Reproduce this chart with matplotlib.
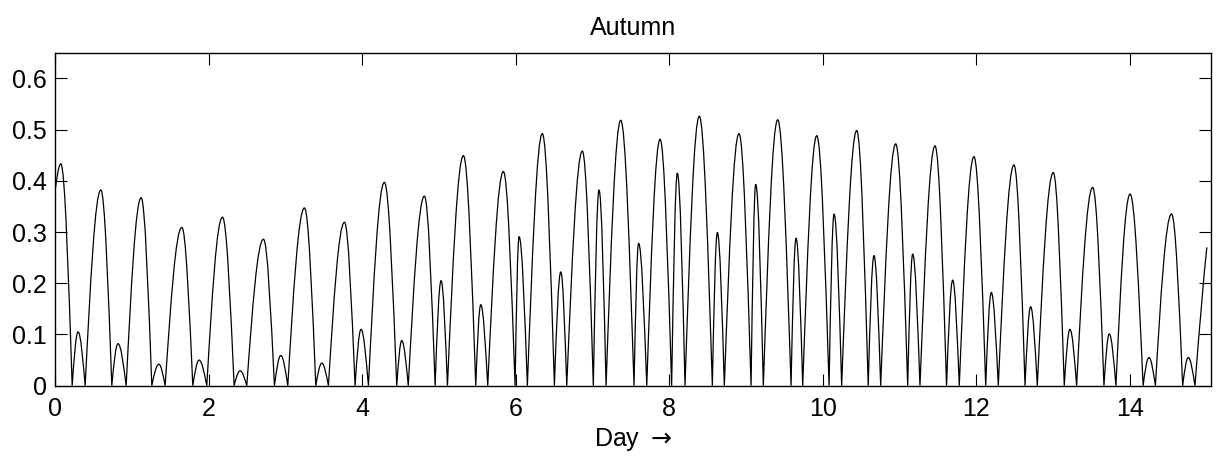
import matplotlib
matplotlib.use("Agg")
import matplotlib.pyplot as plt
from matplotlib.path import Path
from matplotlib.patches import PathPatch

# values: each hump of the curve = peak time, peak value, zero after it
start_t, start_y = 0.0, 0.38
peak_t = [0.075, 0.300, 0.596, 0.820, 1.121, 1.351, 1.651, 1.876, 2.180, 2.410,
          2.714, 2.940, 3.248, 3.474, 3.769, 3.985, 4.289, 4.515, 4.810, 5.027,
          5.318, 5.544, 5.839, 6.043, 6.346, 6.586, 6.867, 7.084, 7.367, 7.600,
          7.879, 8.104, 8.390, 8.625, 8.907, 9.125, 9.411, 9.650, 9.920, 10.145,
          10.440, 10.665, 10.948, 11.169, 11.460, 11.690, 11.967, 12.193, 12.488, 12.705,
          13.000, 13.217, 13.513, 13.729, 14.000, 14.246, 14.540, 14.758]
peak_y = [0.433, 0.105, 0.382, 0.082, 0.367, 0.042, 0.309, 0.050, 0.329, 0.029,
          0.286, 0.059, 0.347, 0.044, 0.319, 0.110, 0.397, 0.088, 0.370, 0.205,
          0.449, 0.158, 0.418, 0.291, 0.492, 0.222, 0.458, 0.382, 0.518, 0.278,
          0.481, 0.415, 0.526, 0.299, 0.492, 0.393, 0.519, 0.288, 0.488, 0.335,
          0.498, 0.254, 0.472, 0.257, 0.468, 0.206, 0.447, 0.182, 0.431, 0.154,
          0.416, 0.110, 0.387, 0.101, 0.374, 0.055, 0.335, 0.055]
zero_t = [0.223, 0.392, 0.739, 0.926, 1.260, 1.434, 1.794, 1.976, 2.332, 2.497,
          2.857, 3.031, 3.396, 3.560, 3.907, 4.081, 4.450, 4.600, 4.950, 5.110,
          5.479, 5.635, 5.991, 6.151, 6.503, 6.664, 7.010, 7.176, 7.540, 7.706,
          8.030, 8.204, 8.560, 8.716, 9.064, 9.224, 9.585, 9.737, 10.080, 10.244,
          10.590, 10.752, 11.104, 11.264, 11.610, 11.776, 12.120, 12.284, 12.632, 12.792,
          13.143, 13.304, 13.660, 13.816, 14.170, 14.330, 14.685, 14.845]
end_t, end_y = 15.0, 0.27

xticks = [0, 2, 4, 6, 8, 10, 12, 14]
yticks = [0, 0.1, 0.2, 0.3, 0.4, 0.5, 0.6]
ylabels = ["0", "0.1", "0.2", "0.3", "0.4", "0.5", "0.6"]

plt.rcParams['font.family'] = ['Liberation Sans', 'DejaVu Sans']
plt.rcParams['font.size'] = 18

fig = plt.figure(figsize=(12.18, 4.59), dpi=100)
ax = fig.add_axes([0.0452, 0.1597, 0.9488, 0.7255])

# smooth lobes: bezier rise to each peak, bezier fall to the next zero
verts = [(start_t, start_y)]
codes = [Path.MOVETO]
prev_t, prev_y = start_t, start_y
for pt, py, zt in zip(peak_t, peak_y, zero_t):
    dt = pt - prev_t
    verts += [(prev_t + 0.326 * dt, prev_y + 0.512 * (py - prev_y)),
              (prev_t + 0.638 * dt, py), (pt, py)]
    codes += [Path.CURVE4] * 3
    dt = zt - pt
    verts += [(pt + 0.362 * dt, py), (pt + 0.674 * dt, 0.488 * py), (zt, 0)]
    codes += [Path.CURVE4] * 3
    prev_t, prev_y = zt, 0
dt = end_t - prev_t
verts += [(prev_t + 0.4 * dt, 0.45 * end_y), (prev_t + 0.75 * dt, 0.8 * end_y), (end_t, end_y)]
codes += [Path.CURVE4] * 3

ax.add_patch(PathPatch(Path(verts, codes), fill=False, edgecolor='black', lw=0.9))

ax.set_xlim(0, 15.05)
ax.set_ylim(0, 0.65)
ax.set_xticks(xticks)
ax.set_yticks(yticks)
ax.set_yticklabels(ylabels)
ax.tick_params(direction='in', length=8.6, width=0.8, top=True, right=True)
ax.tick_params(axis='x', pad=8)
ax.tick_params(axis='y', pad=6)
for s in ax.spines.values():
    s.set_linewidth(1.0)

ax.set_title("Autumn", fontsize=18, pad=13)
ax.set_xlabel("Day$\\;\\rightarrow$", fontsize=18, labelpad=4)

fig.savefig("out.png", dpi=100)
